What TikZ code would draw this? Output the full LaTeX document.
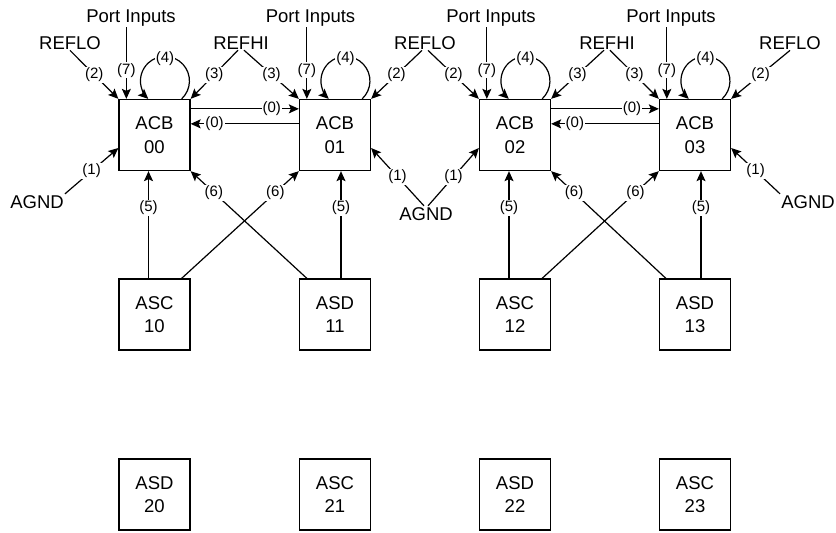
\documentclass[tikz,border=0pt]{standalone}
\usepackage{fontspec}
\setmainfont{Liberation Sans}
\usetikzlibrary{arrows.meta,calc}
\begin{document}
\begin{tikzpicture}[x=1pt,y=-1pt,
  box/.style={draw, line width=1.3pt, minimum width=71pt, minimum height=71pt, inner sep=0pt, align=center, font=\fontsize{18.5}{23.5}\selectfont},
  txt/.style={inner sep=1pt, font=\fontsize{18.5}{22}\selectfont, anchor=base},
  lbl/.style={fill=white, inner sep=1pt, font=\fontsize{15}{17}\selectfont},
  arr/.style={line width=1.2pt, -{Stealth[length=10pt,width=9pt,inset=2pt]}}]
\useasboundingbox (0,0) rectangle (836,533);
% boxes
\node[box] (a00) at (154.5,135) {ACB\\00};
\node[box] (a01) at (335,135) {ACB\\01};
\node[box] (a02) at (515,135) {ACB\\02};
\node[box] (a03) at (695,135) {ACB\\03};
\node[box] (s10) at (154.5,314.5) {ASC\\10};
\node[box] (s11) at (335,314.5) {ASD\\11};
\node[box] (s12) at (515,314.5) {ASC\\12};
\node[box] (s13) at (695,314.5) {ASD\\13};
\node[box] (s20) at (154.5,494.5) {ASD\\20};
\node[box] (s21) at (335,494.5) {ASC\\21};
\node[box] (s22) at (515,494.5) {ASD\\22};
\node[box] (s23) at (695,494.5) {ASC\\23};
% text
\node[txt] (pi0) at (131,22) {Port Inputs};
\node[txt] (pi1) at (310.5,22) {Port Inputs};
\node[txt] (pi2) at (491,22) {Port Inputs};
\node[txt] (pi3) at (671,22) {Port Inputs};
\node[txt] (reflo0) at (70,49) {REFLO};
\node[txt] (refhi1) at (241,49) {REFHI};
\node[txt] (reflo2) at (425,49) {REFLO};
\node[txt] (refhi3) at (607,49) {REFHI};
\node[txt] (reflo4) at (790,49) {REFLO};
\node[txt] (agnd0) at (37,208) {AGND};
\node[txt] (agnd1) at (426,220) {AGND};
\node[txt] (agnd2) at (808,208) {AGND};
% port inputs and loops
\foreach \i in {0,1,2,3}{
  \coordinate (t7\i) at ($(a0\i.north west)+(8,0)$);
  \draw[arr] (t7\i |- pi\i.south) -- node[lbl,pos=0.6] (l7\i) {(7)} (t7\i);
  \draw[arr] ($(a0\i.north east)+(-9,0)$) arc[start angle=47,end angle=-227,radius=24.5];
  \node[lbl] (l4\i) at ($(a0\i.north east)+(-25.7,-40.5)$) {(4)};
}
% references
\draw[arr] (reflo0.south) -- node[lbl] (l2a) {(2)} (a00.north west);
\draw[arr] ([xshift=-3pt]refhi1.south) -- node[lbl] (l3a) {(3)} (a00.north east);
\draw[arr] ([xshift=3pt]refhi1.south) -- node[lbl] (l3b) {(3)} (a01.north west);
\draw[arr] ([xshift=-3pt]reflo2.south) -- node[lbl] (l2b) {(2)} (a01.north east);
\draw[arr] ([xshift=3pt]reflo2.south) -- node[lbl] (l2c) {(2)} (a02.north west);
\draw[arr] ([xshift=-3pt]refhi3.south) -- node[lbl] (l3c) {(3)} (a02.north east);
\draw[arr] ([xshift=3pt]refhi3.south) -- node[lbl] (l3d) {(3)} (a03.north west);
\draw[arr] (reflo4.south) -- node[lbl] (l2d) {(2)} (a03.north east);
% (0) links
\draw[arr] ($(a00.north east)+(0,10)$) -- node[lbl,pos=0.75] (l0a) {(0)} ($(a01.north west)+(0,10)$);
\draw[arr] ($(a01.north west)+(0,25)$) -- node[lbl,pos=0.78] (l0b) {(0)} ($(a00.north east)+(0,25)$);
\draw[arr] ($(a02.north east)+(0,10)$) -- node[lbl,pos=0.75] (l0c) {(0)} ($(a03.north west)+(0,10)$);
\draw[arr] ($(a03.north west)+(0,25)$) -- node[lbl,pos=0.78] (l0d) {(0)} ($(a02.north east)+(0,25)$);
% AGND
\draw[arr] (agnd0.north east) -- node[lbl] (l1a) {(1)} ($(a00.west)+(0,13)$);
\draw[arr] ([xshift=-2pt]agnd1.north) -- node[lbl] (l1b) {(1)} ($(a01.east)+(0,13)$);
\draw[arr] ([xshift=2pt]agnd1.north) -- node[lbl] (l1c) {(1)} ($(a02.west)+(0,13)$);
\draw[arr] (agnd2.north west) -- node[lbl] (l1d) {(1)} ($(a03.east)+(0,13)$);
% (5)
\draw[arr] ($(s10.north)+(-6,0)$) -- node[lbl,pos=0.66] (l5a) {(5)} ($(a00.south)+(-6,0)$);
\draw[arr] ($(s11.north)+(6,0)$) -- node[lbl,pos=0.66] (l5b) {(5)} ($(a01.south)+(6,0)$);
\draw[arr] ($(s12.north)+(-6,0)$) -- node[lbl,pos=0.66] (l5c) {(5)} ($(a02.south)+(-6,0)$);
\draw[arr] ($(s13.north)+(6,0)$) -- node[lbl,pos=0.66] (l5d) {(5)} ($(a03.south)+(6,0)$);
% (6)
\draw[arr] ($(s10.north east)+(-9,0)$) -- node[lbl,pos=0.8] (l6a) {(6)} (a01.south west);
\draw[arr] ($(s11.north west)+(8,0)$) -- node[lbl,pos=0.8] (l6b) {(6)} (a00.south east);
\draw[arr] ($(s12.north east)+(-9,0)$) -- node[lbl,pos=0.8] (l6c) {(6)} (a03.south west);
\draw[arr] ($(s13.north west)+(7,0)$) -- node[lbl,pos=0.8] (l6d) {(6)} (a02.south east);
\end{tikzpicture}
\end{document}
